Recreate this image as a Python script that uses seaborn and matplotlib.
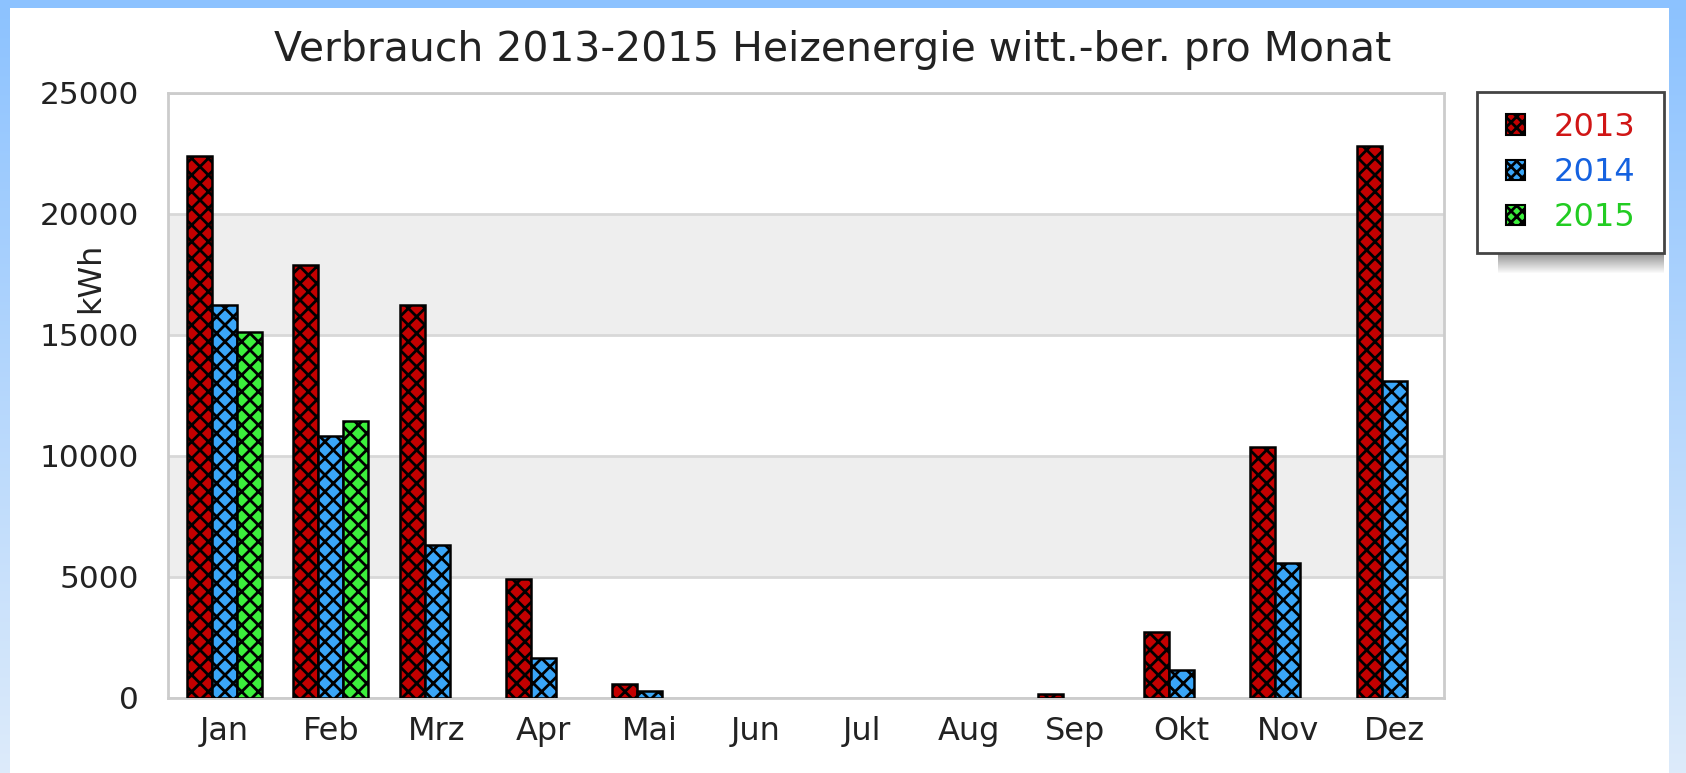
import numpy as np
import pandas as pd
import matplotlib
matplotlib.use("Agg")
import matplotlib.pyplot as plt
from matplotlib.patches import Rectangle, Patch
import seaborn as sns

# ---- data -------------------------------------------------------------
months = ["Jan", "Feb", "Mrz", "Apr", "Mai", "Jun", "Jul", "Aug", "Sep", "Okt", "Nov", "Dez"]
years = ["2013", "2014", "2015"]
kwh_2013 = [22400, 17900, 16250, 4900, 550, np.nan, np.nan, np.nan, 130, 2700, 10350, 22800]
kwh_2014 = [16250, 10800, 6300, 1650, 270, np.nan, np.nan, np.nan, np.nan, 1150, 5550, 13100]
kwh_2015 = [15100, 11450, np.nan, np.nan, np.nan, np.nan, np.nan, np.nan, np.nan, np.nan, np.nan, np.nan]
y_ticks = [0, 5000, 10000, 15000, 20000, 25000]

title = "Verbrauch 2013-2015 Heizenergie witt.-ber. pro Monat"
y_label = "kWh"

bar_colors = {"2013": "#C40000", "2014": "#3AA6F8", "2015": "#3CF03C"}
text_colors = {"2013": "#D01515", "2014": "#1562E0", "2015": "#22CC22"}

df = pd.DataFrame({
    "Monat": months * 3,
    "Jahr": [y for y in years for _ in months],
    "kWh": kwh_2013 + kwh_2014 + kwh_2015,
}).dropna()

# ---- figure -----------------------------------------------------------
sns.set_theme(style="white")
plt.rcParams["font.family"] = ["DejaVu Sans"]
plt.rcParams["hatch.linewidth"] = 2.0
plt.rcParams["hatch.color"] = "black"

W, H = 1686, 773
fig = plt.figure(figsize=(W / 100, H / 100), dpi=100)
fig.patch.set_facecolor("white")

# blue page frame
bg = fig.add_axes([0, 0, 1, 1], zorder=-10)
bg.axis("off")
img = np.ones((H, W, 3))
top_c = np.array([0x8C, 0xC2, 0xFF]) / 255
bot_c = np.array([0xDD, 0xEB, 0xFA]) / 255
t = np.linspace(0, 1, H)[:, None]
grad = top_c[None, :] * (1 - t) + bot_c[None, :] * t
img[:, :10, :] = grad[:, None, :]
img[:, W - 17:, :] = grad[:, None, :]
img[:8, :, :] = top_c
bg.imshow(img, extent=(0, W, H, 0), aspect="auto", interpolation="nearest")
bg.set_xlim(0, W)
bg.set_ylim(H, 0)

# plot area
px_l, px_r, px_t, px_b = 168, 1444, 93, 697.5
ax = fig.add_axes([px_l / W, 1 - px_b / H, (px_r - px_l) / W, (px_b - px_t) / H])
ax.set_facecolor("white")
for lo, hi in [(5000, 10000), (15000, 20000)]:
    ax.axhspan(lo, hi, color="#EEEEEE", zorder=0, lw=0)

sns.barplot(data=df, x="Monat", y="kWh", hue="Jahr", order=months, hue_order=years,
            palette=bar_colors, width=0.705, saturation=1, edgecolor="black",
            linewidth=1.8, errorbar=None, legend=False, ax=ax, zorder=3)
for cont in ax.containers:
    for bar in cont:
        bar.set_hatch("xx")

ax.set_xlim(-0.53, 11.47)
ax.set_ylim(0, 25000)
ax.set_yticks(y_ticks)
ax.set_yticklabels([str(v) for v in y_ticks])
ax.yaxis.grid(True, color="#D8D8D8", lw=2, zorder=1)
ax.set_axisbelow(True)
ax.set_xlabel("")
ax.set_ylabel("")
ax.tick_params(axis="both", length=0, labelsize=23, colors="#222222")
ax.tick_params(axis="y", labelsize=22.5, pad=21)
ax.tick_params(axis="x", pad=13)
for s in ax.spines.values():
    s.set_visible(True)
    s.set_color("#CCCCCC")
    s.set_linewidth(2)

fig.text(833 / W, 1 - 50 / H, title, ha="center", va="center", fontsize=29.4, color="#222222")
fig.text(91 / W, 1 - 278 / H, y_label, ha="center", va="center", rotation=90,
         fontsize=23, color="#222222")

# legend box with shadow
lx0, lx1, ly0, ly1 = 1477, 1664, 92, 253
sh = fig.add_axes([1498 / W, 1 - 274 / H, (1664 - 1498) / W, (274 - 253) / H], zorder=5)
sh.axis("off")
sv = np.linspace(0.55, 1.0, 21)[:, None]
sh_img = np.repeat(np.repeat(sv, 166, axis=1)[:, :, None], 3, axis=2)
sh.imshow(sh_img, aspect="auto", extent=(0, 1, 1, 0), vmin=0, vmax=1)
fig.add_artist(Rectangle((lx0 / W, 1 - ly1 / H), (lx1 - lx0) / W, (ly1 - ly0) / H,
                         transform=fig.transFigure, facecolor="white",
                         edgecolor="#444444", linewidth=2, zorder=6))

handles = [Patch(facecolor=bar_colors[y], edgecolor="black", hatch="xxx", linewidth=1.5)
           for y in years]
leg = fig.legend(handles, years, loc="center",
                 bbox_to_anchor=((lx0 + lx1) / 2 / W, 1 - (ly0 + ly1) / 2 / H),
                 bbox_transform=fig.transFigure, frameon=False, fontsize=23,
                 handlelength=0.6, handleheight=0.6, handletextpad=0.9,
                 labelspacing=0.45, borderpad=0)
leg.set_zorder(7)
for txt, y in zip(leg.get_texts(), years):
    txt.set_color(text_colors[y])

fig.savefig("out.png", dpi=100)
